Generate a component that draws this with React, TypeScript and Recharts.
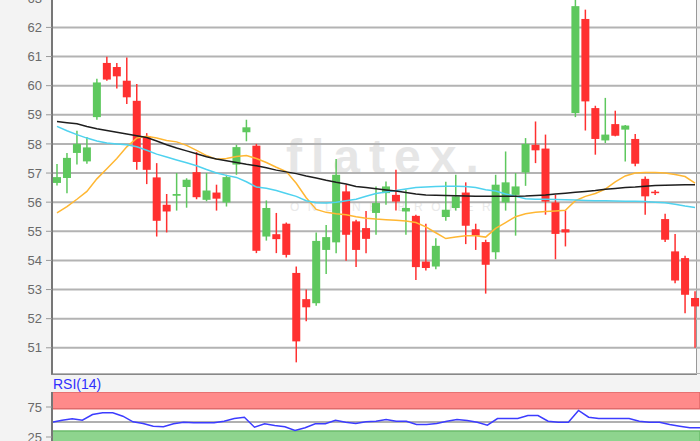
import { ComposedChart, Bar, Line, XAxis, YAxis, CartesianGrid, ReferenceArea, ReferenceLine } from "recharts";

const opens = [
  56.66, 56.83, 57.69, 57.4, 58.92, 60.78, 60.64, 60.17, 59.48, 58.26,
  56.85, 55.91, 56.22, 56.52, 57.03, 56.08, 56.33, 55.99, 57.29, 58.4,
  57.94, 54.82, 54.9, 55.26, 53.57, 52.67, 52.53, 54.36, 54.62, 56.37,
  55.34, 55.11, 55.63, 56.31, 56.25, 55.68, 55.53, 53.96, 53.79, 55.49,
  55.8, 56.33, 55.07, 54.63, 54.28, 55.99, 56.25, 57.02, 57.97, 57.84,
  55.99, 55.07, 59.06, 62.29, 59.23, 58.12, 58.68, 58.49, 58.17, 56.8,
  56.36, 55.42, 54.31, 54.08, 52.71,
];
const highs = [
  57.31, 57.69, 58.45, 58.24, 60.24, 60.99, 60.78, 60.97, 60.06, 58.37,
  57.34, 56.28, 57.0, 56.82, 57.72, 57.0, 56.6, 56.94, 57.97, 58.83,
  58.0, 56.06, 55.63, 55.3, 53.79, 53.0, 54.96, 55.22, 57.48, 56.6,
  55.4, 55.7, 56.54, 56.71, 57.11, 56.43, 55.57, 55.26, 54.76, 56.7,
  56.94, 56.68, 55.26, 54.71, 56.94, 57.74, 57.0, 58.2, 58.77, 58.32,
  56.25, 55.71, 63.2, 62.61, 59.31, 59.58, 59.14, 58.65, 58.34, 56.88,
  56.42, 55.6, 54.91, 54.16, 52.94,
];
const lows = [
  56.57, 56.31, 57.29, 57.32, 58.83, 60.17, 59.9, 59.37, 57.11, 56.62,
  54.82, 54.96, 55.71, 55.81, 56.1, 56.03, 55.71, 55.85, 56.94, 58.09,
  54.25, 54.68, 54.25, 54.1, 50.5, 51.91, 52.44, 53.53, 54.25, 53.99,
  53.77, 54.25, 54.88, 55.91, 55.71, 54.88, 53.33, 53.65, 53.7, 55.36,
  55.71, 54.56, 54.36, 52.86, 54.04, 55.71, 54.85, 56.56, 57.34, 55.57,
  54.04, 54.48, 58.92, 58.46, 57.63, 58.03, 58.26, 57.4, 57.23, 55.57,
  56.25, 54.63, 53.22, 52.19, 51.0,
];
const closes = [
  56.86, 57.52, 58.0, 57.88, 60.11, 60.21, 60.32, 59.6, 57.38, 57.11,
  55.36, 55.68, 56.28, 56.77, 56.17, 56.4, 56.12, 56.86, 57.89, 58.57,
  54.33, 55.8, 54.73, 54.19, 51.22, 52.39, 54.67, 54.8, 56.94, 54.88,
  54.36, 54.74, 55.97, 56.54, 56.02, 55.8, 53.77, 53.74, 54.5, 55.74,
  56.2, 55.19, 54.85, 53.85, 56.6, 56.68, 56.54, 58.0, 57.78, 56.02,
  54.91, 54.96, 62.73, 59.46, 58.17, 58.32, 58.28, 58.63, 57.32, 56.2,
  56.32, 54.71, 53.31, 52.82, 52.42,
];
const maLong = [
  58.77, 58.73, 58.69, 58.6, 58.52, 58.46, 58.4, 58.34, 58.28, 58.22,
  58.1, 57.97, 57.86, 57.76, 57.66, 57.56, 57.48, 57.42, 57.36, 57.3,
  57.25, 57.18, 57.1, 57.04, 56.98, 56.9, 56.83, 56.75, 56.68, 56.62,
  56.54, 56.5, 56.46, 56.42, 56.38, 56.33, 56.28, 56.25, 56.24, 56.23,
  56.22, 56.21, 56.2, 56.2, 56.2, 56.2, 56.2, 56.21, 56.23, 56.25,
  56.28, 56.31, 56.34, 56.37, 56.4, 56.44, 56.47, 56.5, 56.52, 56.55,
  56.57, 56.58, 56.59, 56.6, 56.6,
];
const maMid = [
  58.6, 58.45, 58.32, 58.2, 58.1, 58.03, 58.0, 57.97, 57.9, 57.78,
  57.65, 57.55, 57.45, 57.35, 57.25, 57.12, 57.0, 56.92, 56.85, 56.7,
  56.52, 56.48, 56.4, 56.3, 56.2, 56.05, 55.98, 55.97, 56.0, 56.05,
  56.1, 56.2, 56.3, 56.35, 56.4, 56.45, 56.5, 56.52, 56.54, 56.55,
  56.55, 56.54, 56.5, 56.43, 56.38, 56.28, 56.2, 56.12, 56.1, 56.1,
  56.09, 56.08, 56.07, 56.06, 56.05, 56.05, 56.04, 56.03, 56.03, 56.02,
  56.0, 55.98, 55.93, 55.87, 55.82,
];
const maShort = [
  55.63, 55.85, 56.1, 56.37, 56.8, 57.15, 57.5, 57.9, 58.2, 58.26,
  58.2, 58.12, 58.07, 57.95, 57.78, 57.6, 57.47, 57.5, 57.57, 57.6,
  57.5, 57.36, 57.2, 57.05, 56.65, 56.15, 55.75, 55.65, 55.6, 55.57,
  55.5, 55.45, 55.42, 55.4, 55.38, 55.35, 55.3, 55.15, 54.95, 54.75,
  54.8, 54.85, 54.85, 54.8, 55.1, 55.3, 55.5, 55.6, 55.65, 55.68,
  55.7, 55.72, 56.05, 56.2, 56.3, 56.45, 56.7, 56.9, 57.0, 57.02,
  57.02, 57.0, 56.95, 56.88, 56.65,
];
const rsi = [
  49.7, 53, 55.3, 53, 62.5, 65.3, 65.3, 59.7, 50.3, 47.5,
  43, 42, 47, 49.7, 48.7, 48.7, 48.7, 51.3, 55.8, 58,
  41.3, 47, 44.2, 42, 35.8, 40.3, 47, 47, 53, 49.7,
  47.5, 50.3, 51.3, 54.2, 51.3, 51.3, 45.8, 45.8, 47.5, 51.3,
  54.2, 52.5, 49.7, 44.7, 55.8, 55.8, 55.8, 60.8, 60.8, 51.3,
  49.7, 49.7, 69.2, 58, 55.8, 55.8, 55.8, 55.8, 51.3, 49.7,
  49.7, 45.8, 43, 40.3, 40.3,
];
const priceTicks = [51, 52, 53, 54, 55, 56, 57, 58, 59, 60, 61, 62, 63];
const rsiTicks = [25, 75];

const GREEN = "#5ec85e";
const RED = "#ff3030";
const FONT = "'Liberation Sans', Arial, sans-serif";

const rows = opens.map((open, i) => ({
  i,
  open,
  high: highs[i],
  low: lows[i],
  close: closes[i],
  range: [lows[i], highs[i]],
  maLong: maLong[i],
  maMid: maMid[i],
  maShort: maShort[i],
  rsi: rsi[i],
}));

function Candle(props: any) {
  const { x, y, width, height, payload } = props;
  if (!payload) return null;
  const { open, close, high, low } = payload;
  const color = close >= open ? GREEN : RED;
  const top = height < 0 ? y + height : y;
  const h = Math.abs(height);
  const k = high > low ? h / (high - low) : 0;
  const bTop = top + (high - Math.max(open, close)) * k;
  const bBot = top + (high - Math.min(open, close)) * k;
  const cx = x + width / 2;
  return (
    <g>
      <line x1={cx} x2={cx} y1={top} y2={top + h} stroke={color} strokeWidth={1.5} />
      <rect x={x} y={bTop} width={width} height={Math.max(bBot - bTop, 1.5)} fill={color} />
    </g>
  );
}

export default function App() {
  return (
    <div style={{ position: "absolute", left: 0, top: 0, width: 700, height: 441, overflow: "hidden", background: "#f3f3f3", fontFamily: FONT }}>
      {/* plot backgrounds + watermark */}
      <svg width={700} height={441} style={{ position: "absolute", left: 0, top: 0 }}>
        <rect x={52} y={-2} width={645} height={376} fill="#fff" />
        <rect x={52} y={392} width={648} height={60} fill="#fff" />
        <text x={286} y={173} fontSize={48} fontWeight="bold" letterSpacing={9} fill="#e6e6e6" fontFamily={FONT}>flatex.</text>
        <text x={290} y={211} fontSize={12} letterSpacing={8.5} fill="#e9e9e9" fontFamily={FONT}>ONLINE BROKER</text>
        <line x1={696.5} x2={696.5} y1={0} y2={374} stroke="#999" strokeWidth={1} />
        <line x1={51} x2={697} y1={374} y2={374} stroke="#888" strokeWidth={2} />
      </svg>

      <div style={{ position: "absolute", left: 0, top: -10 }}>
        <ComposedChart width={700} height={384} data={rows} margin={{ top: 1, right: 0, bottom: 0, left: 0 }}>
          <CartesianGrid horizontal vertical={false} stroke="#b3b3b3" strokeWidth={2} />
          <XAxis dataKey="i" type="category" hide />
          <YAxis
            domain={[50.1, 63.25]}
            allowDataOverflow
            ticks={priceTicks}
            interval={0}
            width={52}
            tickSize={6}
            tickMargin={4}
            axisLine={{ stroke: "#777", strokeWidth: 2 }}
            tickLine={{ stroke: "#999" }}
            tick={{ fill: "#6a6a6a", fontSize: 13 }}
          />
          <Bar dataKey="range" barSize={8} shape={<Candle />} isAnimationActive={false} />
          <Line dataKey="maShort" stroke="#ffb733" strokeWidth={1.5} dot={false} isAnimationActive={false} />
          <Line dataKey="maMid" stroke="#4fd2ef" strokeWidth={1.5} dot={false} isAnimationActive={false} />
          <Line dataKey="maLong" stroke="#1e1e1e" strokeWidth={1.5} dot={false} isAnimationActive={false} />
        </ComposedChart>
      </div>

      <div style={{ position: "absolute", left: 53, top: 376, fontSize: 14, color: "#2f2fff", lineHeight: "16px" }}>RSI(14)</div>

      <div style={{ position: "absolute", left: 0, top: 392 }}>
        <ComposedChart width={700} height={60} data={rows} margin={{ top: 0, right: 0, bottom: 0, left: 0 }}>
          <XAxis dataKey="i" type="category" hide />
          <YAxis
            domain={[0, 100]}
            ticks={rsiTicks}
            interval={0}
            width={52}
            tickSize={6}
            tickMargin={4}
            axisLine={{ stroke: "#777", strokeWidth: 2 }}
            tickLine={{ stroke: "#999" }}
            tick={{ fill: "#6a6a6a", fontSize: 13 }}
          />
          <ReferenceArea y1={72} y2={100} fill="#ff8a8a" fillOpacity={1} stroke="#e06a6a" strokeWidth={1.5} />
          <ReferenceArea y1={0} y2={35} fill="#8ed48e" fillOpacity={1} stroke="#6cbc6c" strokeWidth={1.5} />
          <ReferenceLine y={50} stroke="#b0b0b0" strokeWidth={2} />
          <Line dataKey="rsi" stroke="#3c3cff" strokeWidth={1.5} dot={false} isAnimationActive={false} />
        </ComposedChart>
      </div>
    </div>
  );
}
